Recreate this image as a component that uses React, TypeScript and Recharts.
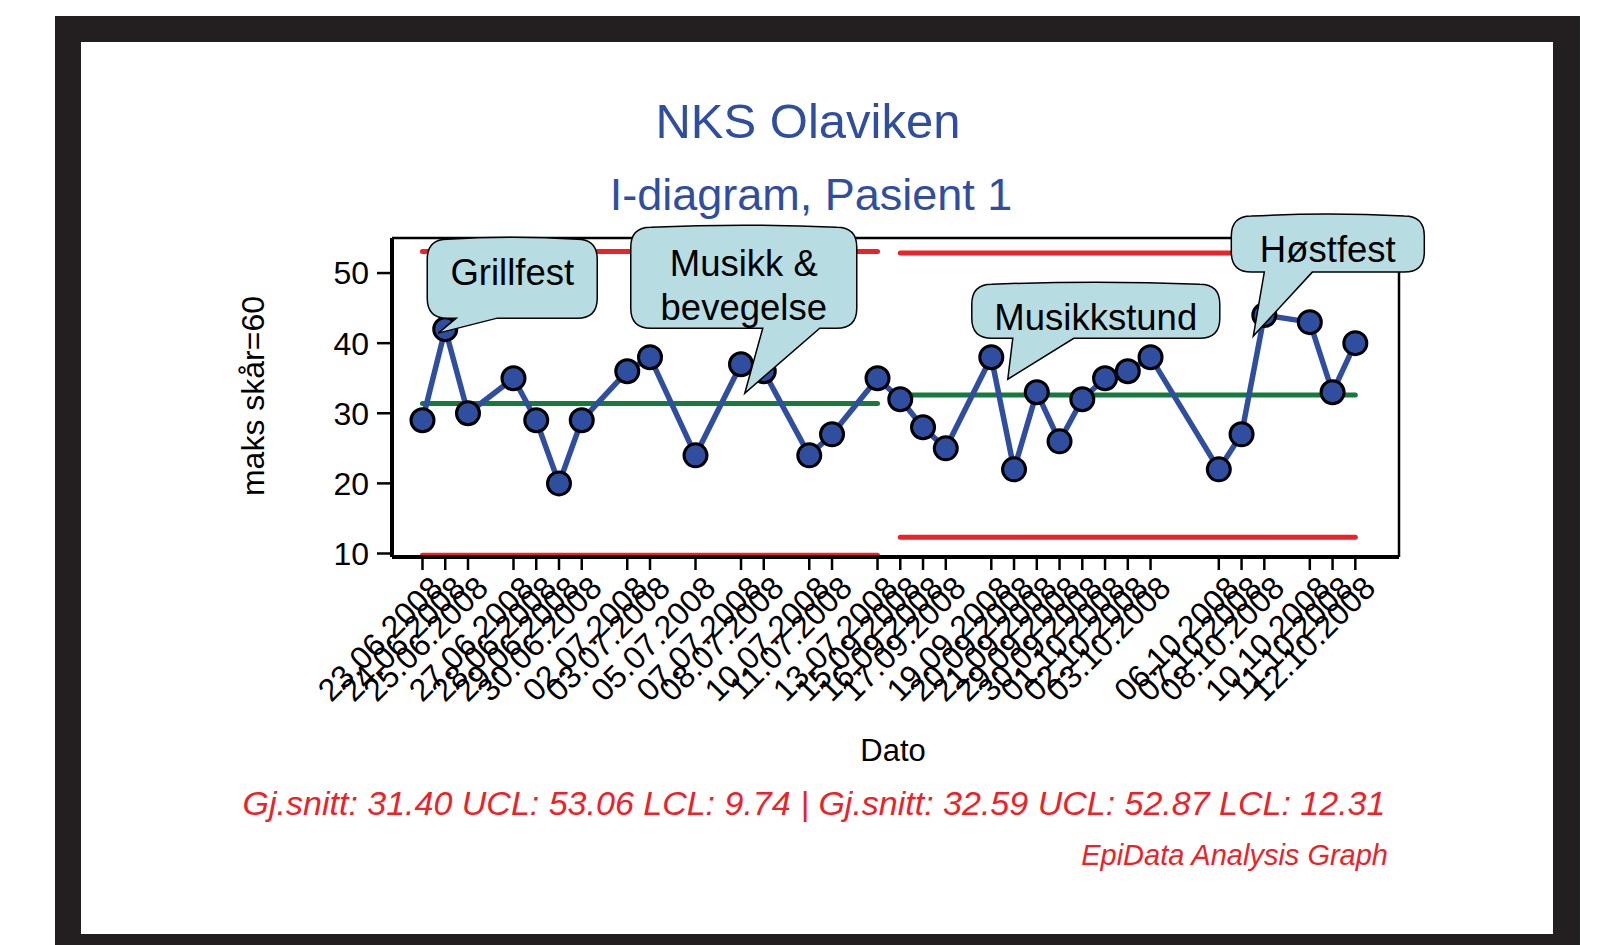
import React from 'react';
import { LineChart, Line, XAxis, YAxis, ReferenceLine, ReferenceDot } from 'recharts';

// observation dates, position on the day axis and score
const dates = [
  '23.06.2008', '24.06.2008', '25.06.2008', '27.06.2008', '28.06.2008', '29.06.2008', '30.06.2008',
  '02.07.2008', '03.07.2008', '05.07.2008', '07.07.2008', '08.07.2008', '10.07.2008', '11.07.2008',
  '13.07.2008',
  '15.09.2008', '16.09.2008', '17.09.2008', '19.09.2008', '20.09.2008', '21.09.2008', '29.09.2008',
  '30.09.2008', '01.10.2008', '02.10.2008', '03.10.2008', '06.10.2008', '07.10.2008', '08.10.2008',
  '10.10.2008', '11.10.2008', '12.10.2008',
];
const daySlots = [0, 1, 2, 4, 5, 6, 7, 9, 10, 12, 14, 15, 17, 18, 20, 21, 22, 23, 25, 26, 27, 28, 29, 30, 31, 32, 35, 36, 37, 39, 40, 41];
const scores = [29, 42, 30, 35, 29, 20, 29, 36, 38, 24, 37, 36, 24, 27, 35, 32, 28, 25, 38, 22, 33, 26, 32, 35, 36, 38, 22, 27, 44, 43, 33, 40];

// control limits per phase
const phaseLength = [15, 17];
const phaseMean = [31.4, 32.59];
const phaseUcl = [53.06, 52.87];
const phaseLcl = [9.74, 12.31];

const yTicks = [10, 20, 30, 40, 50];

// callouts: which observation they point at
const callouts = [
  { idx: 1, lines: ['Grillfest'], box: [-18, 152, -90, -11], tail: [11, 52, -7, 4], textY: [-57] },
  { idx: 11, lines: ['Musikk &', 'bevegelse'], box: [-133, 93, -144, -43], tail: [-1, 56, -19, 22], textY: [-108, -64] },
  { idx: 20, lines: ['Musikkstund'], box: [-65, 183, -108, -54], tail: [-24, 37, -29, -13], textY: [-75] },
  { idx: 28, lines: ['Høstfest'], box: [-33, 160, -99, -43], tail: [0, 48, -11, 21], textY: [-66] },
];

const rows = dates.map((d, i) => {
  const p = i < phaseLength[0] ? 0 : 1;
  return {
    slot: daySlots[i],
    date: d,
    score: scores[i],
    mean1: p === 0 ? phaseMean[0] : null,
    ucl1: p === 0 ? phaseUcl[0] : null,
    lcl1: p === 0 ? phaseLcl[0] : null,
    mean2: p === 1 ? phaseMean[1] : null,
    ucl2: p === 1 ? phaseUcl[1] : null,
    lcl2: p === 1 ? phaseLcl[1] : null,
  };
});

const FONT = '"Liberation Sans", Arial, Helvetica, sans-serif';
const BLUE = '#2f4e9f';
const RED = '#ec2228';
const GREEN = '#167a3c';

const labelForSlot = (s: number) => {
  const i = daySlots.indexOf(s);
  return i >= 0 ? dates[i] : '';
};

const DateTick = ({ x, y, payload }: any) => {
  const ax = x + 22;
  const ay = y + 18;
  return (
    <text
      x={ax}
      y={ay}
      transform={`rotate(-45 ${ax} ${ay})`}
      textAnchor="end"
      fontSize={32}
      fontFamily={FONT}
      fill="#000"
    >
      {labelForSlot(payload.value)}
    </text>
  );
};

const Bubble = ({ cx, cy, c }: any) => {
  const [l, r, t, b] = c.box;
  const [x1, x2, tx, ty] = c.tail;
  const L = cx + l, R = cx + r, T = cy + t, B = cy + b;
  const rad = 20;
  const d = [
    `M ${L + rad} ${T}`,
    `Q ${(L + R) / 2} ${T - 4} ${R - rad} ${T}`,
    `Q ${R} ${T} ${R} ${T + rad}`,
    `L ${R} ${B - rad}`,
    `Q ${R} ${B} ${R - rad} ${B}`,
    `L ${cx + x2} ${B}`,
    `L ${cx + tx} ${cy + ty}`,
    `L ${cx + x1} ${B}`,
    `L ${L + rad} ${B}`,
    `Q ${L} ${B} ${L} ${B - rad}`,
    `L ${L} ${T + rad}`,
    `Q ${L} ${T} ${L + rad} ${T}`,
    'Z',
  ].join(' ');
  return (
    <g>
      <path d={d} fill="#b7dde2" stroke="#000" strokeWidth={1.5} />
      {c.lines.map((s: string, k: number) => (
        <text
          key={k}
          x={(L + R) / 2}
          y={cy + c.textY[k]}
          dy="0.36em"
          textAnchor="middle"
          fontSize={36.5}
          fontFamily={FONT}
          fill="#000"
        >
          {s}
        </text>
      ))}
    </g>
  );
};

export default function App() {
  return (
    <div style={{ position: 'absolute', left: 0, top: 0, width: 1617, height: 945, background: '#fff', overflow: 'hidden' }}>
      <div style={{ position: 'absolute', left: 55, top: 16, width: 1525, height: 929, background: '#231f20' }} />
      <div style={{ position: 'absolute', left: 81, top: 42, width: 1472, height: 892, background: '#fff' }} />
      <svg width={1617} height={945} style={{ position: 'absolute', left: 0, top: 0 }}>
        <text x={808} y={120} dy="0.36em" textAnchor="middle" fontSize={49} fontFamily={FONT} fill={BLUE}>
          NKS Olaviken
        </text>
        <text x={811} y={194} dy="0.36em" textAnchor="middle" fontSize={45} fontFamily={FONT} fill={BLUE}>
          I-diagram, Pasient 1
        </text>
        <text
          x={252}
          y={396}
          dy="0.36em"
          textAnchor="middle"
          transform="rotate(-90 252 396)"
          fontSize={32}
          fontFamily={FONT}
          fill="#000"
        >
          maks skår=60
        </text>
        <text x={893} y={750} dy="0.36em" textAnchor="middle" fontSize={31} fontFamily={FONT} fill="#000">
          Dato
        </text>
        <text x={814} y={803} dy="0.36em" textAnchor="middle" fontSize={34} fontStyle="italic" fontFamily={FONT} fill={RED}>
          Gj.snitt: 31.40 UCL: 53.06 LCL: 9.74 | Gj.snitt: 32.59 UCL: 52.87 LCL: 12.31
        </text>
        <text x={1388} y={855} dy="0.36em" textAnchor="end" fontSize={29} fontStyle="italic" fontFamily={FONT} fill={RED}>
          EpiData Analysis Graph
        </text>
      </svg>
      <div style={{ position: 'absolute', left: 0, top: 0 }}>
        <LineChart width={1617} height={945} data={rows} margin={{ top: 238, right: 218, bottom: 238, left: 292 }}>
          <XAxis
            dataKey="slot"
            type="number"
            domain={[-1.34, 42.92]}
            ticks={daySlots}
            interval={0}
            height={150}
            tickSize={13}
            axisLine={{ stroke: '#000', strokeWidth: 4 }}
            tickLine={{ stroke: '#000', strokeWidth: 2.5 }}
            tick={<DateTick />}
          />
          <YAxis
            type="number"
            domain={[9.5, 55]}
            ticks={yTicks}
            width={100}
            tickSize={15}
            tickMargin={8}
            axisLine={{ stroke: '#000', strokeWidth: 4 }}
            tickLine={{ stroke: '#000', strokeWidth: 2.5 }}
            tick={{ fill: '#000', fontSize: 32, fontFamily: FONT }}
          />
          <ReferenceLine y={55} stroke="#000" strokeWidth={2.5} />
          <ReferenceLine x={42.92} stroke="#000" strokeWidth={2.5} />
          <Line dataKey="ucl1" stroke={RED} strokeWidth={5} strokeLinecap="round" dot={false} isAnimationActive={false} />
          <Line dataKey="lcl1" stroke={RED} strokeWidth={5} strokeLinecap="round" dot={false} isAnimationActive={false} />
          <Line dataKey="mean1" stroke={GREEN} strokeWidth={5} strokeLinecap="round" dot={false} isAnimationActive={false} />
          <Line dataKey="ucl2" stroke={RED} strokeWidth={5} strokeLinecap="round" dot={false} isAnimationActive={false} />
          <Line dataKey="lcl2" stroke={RED} strokeWidth={5} strokeLinecap="round" dot={false} isAnimationActive={false} />
          <Line dataKey="mean2" stroke={GREEN} strokeWidth={5} strokeLinecap="round" dot={false} isAnimationActive={false} />
          <Line
            dataKey="score"
            type="linear"
            stroke={BLUE}
            strokeWidth={5.5}
            dot={{ r: 11.5, fill: BLUE, stroke: '#000', strokeWidth: 3 }}
            activeDot={false}
            isAnimationActive={false}
          />
          {callouts.map((c, k) => (
            <ReferenceDot
              key={k}
              x={daySlots[c.idx]}
              y={scores[c.idx]}
              r={0}
              shape={(p: any) => <Bubble cx={p.cx} cy={p.cy} c={c} />}
            />
          ))}
        </LineChart>
      </div>
    </div>
  );
}
